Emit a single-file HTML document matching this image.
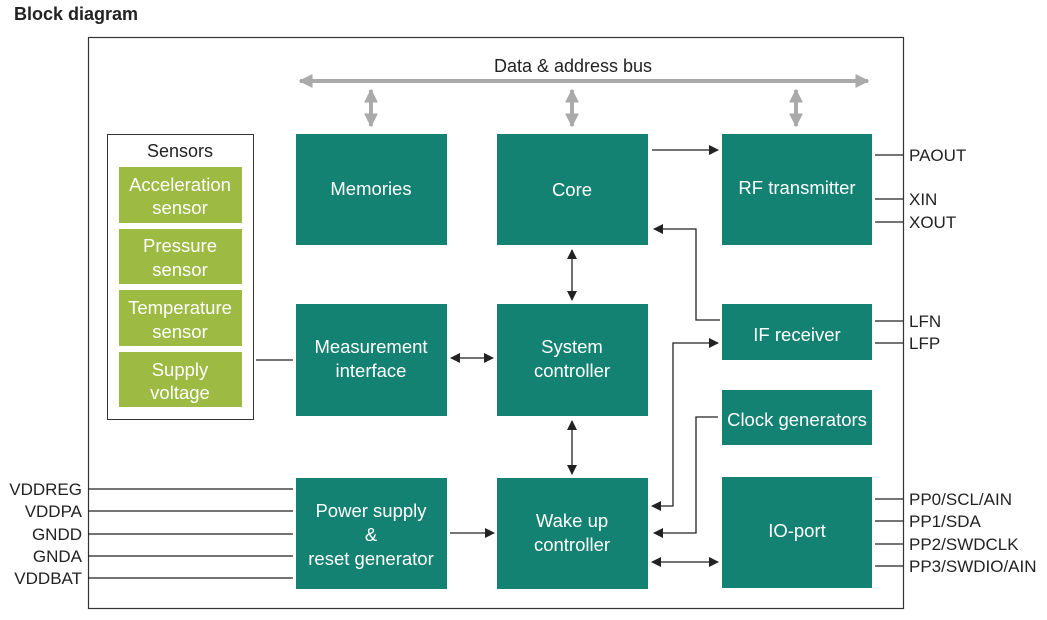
<!DOCTYPE html>
<html><head><style>
body{margin:0;background:#fff;}
svg text{font-family:"Liberation Sans",sans-serif;}
</style></head><body>
<svg width="1047" height="615" xmlns="http://www.w3.org/2000/svg">
<defs>
<marker id="a" viewBox="0 0 10 10" refX="9" refY="5" markerWidth="10" markerHeight="10" markerUnits="userSpaceOnUse" orient="auto-start-reverse"><path d="M0,0L10,5L0,10z" fill="#222"/></marker>
<marker id="g" viewBox="0 0 10 10" refX="9" refY="5" markerWidth="14" markerHeight="14" markerUnits="userSpaceOnUse" orient="auto-start-reverse"><path d="M0,0L10,5L0,10z" fill="#aaa"/></marker>
</defs>
<text x="14" y="20" font-size="18" font-weight="bold" fill="#222">Block diagram</text>
<rect x="88.5" y="37.5" width="815" height="571" fill="none" stroke="#333" stroke-width="1.2"/>
<g stroke="#aaa" stroke-width="4" fill="none">
<line x1="300" y1="81" x2="868" y2="81" marker-start="url(#g)" marker-end="url(#g)"/>
<line x1="371" y1="90" x2="371" y2="126" marker-start="url(#g)" marker-end="url(#g)"/>
<line x1="572" y1="90" x2="572" y2="126" marker-start="url(#g)" marker-end="url(#g)"/>
<line x1="796" y1="90" x2="796" y2="126" marker-start="url(#g)" marker-end="url(#g)"/>
</g>
<text x="573" y="72" font-size="18" text-anchor="middle" fill="#222">Data &amp; address bus</text>
<rect x="107.5" y="134.5" width="146" height="285" fill="#fff" stroke="#333"/>
<text x="180" y="157" font-size="18" text-anchor="middle" fill="#222">Sensors</text>
<g fill="#9dba43"><rect x="119" y="167" width="123" height="56"/><rect x="119" y="229" width="123" height="55"/><rect x="119" y="290" width="123" height="56"/><rect x="119" y="352" width="123" height="55"/></g>
<g fill="#fff" font-size="18.5" text-anchor="middle">
<text x="180" y="191">Acceleration</text><text x="180" y="214">sensor</text>
<text x="180" y="252">Pressure</text><text x="180" y="276">sensor</text>
<text x="180" y="314">Temperature</text><text x="180" y="338">sensor</text>
<text x="180" y="376">Supply</text><text x="180" y="399">voltage</text>
</g>
<g fill="#138272">
<rect x="296" y="134" width="151" height="111"/><rect x="497" y="134" width="151" height="111"/><rect x="722" y="134" width="150" height="111"/>
<rect x="296" y="304" width="151" height="112"/><rect x="497" y="304" width="151" height="112"/>
<rect x="722" y="304" width="150" height="56"/><rect x="722" y="390" width="150" height="55"/><rect x="722" y="477" width="150" height="111"/>
<rect x="296" y="478" width="151" height="111"/><rect x="497" y="478" width="151" height="111"/>
</g>
<g fill="#fff" font-size="18.5" text-anchor="middle">
<text x="371" y="195">Memories</text><text x="572" y="196">Core</text><text x="797" y="194">RF transmitter</text>
<text x="371" y="353">Measurement</text><text x="371" y="377">interface</text>
<text x="572" y="353">System</text><text x="572" y="377">controller</text>
<text x="797" y="341">IF receiver</text><text x="797" y="426">Clock generators</text><text x="797" y="537">IO-port</text>
<text x="371" y="517">Power supply</text><text x="371" y="541">&amp;</text><text x="371" y="565">reset generator</text>
<text x="572" y="527">Wake up</text><text x="572" y="551">controller</text>
</g>
<g stroke="#222" stroke-width="1.3" fill="none">
<line x1="652" y1="150" x2="718" y2="150" marker-end="url(#a)"/>
<polyline points="720,320 696,320 696,229 654,229" marker-end="url(#a)"/>
<line x1="572" y1="250" x2="572" y2="300" marker-start="url(#a)" marker-end="url(#a)"/>
<line x1="572" y1="421" x2="572" y2="474" marker-start="url(#a)" marker-end="url(#a)"/>
<line x1="451" y1="358" x2="493" y2="358" marker-start="url(#a)" marker-end="url(#a)"/>
<line x1="256" y1="360" x2="293" y2="360"/>
<line x1="450" y1="533" x2="494" y2="533" marker-end="url(#a)"/>
<polyline points="652,506 673,506 673,343 718,343" marker-start="url(#a)" marker-end="url(#a)"/>
<polyline points="718,417 696,417 696,533 654,533" marker-end="url(#a)"/>
<line x1="652" y1="562" x2="718" y2="562" marker-start="url(#a)" marker-end="url(#a)"/>
<line x1="88" y1="489" x2="293" y2="489"/><line x1="88" y1="511" x2="293" y2="511"/><line x1="88" y1="534" x2="293" y2="534"/><line x1="88" y1="556" x2="293" y2="556"/><line x1="88" y1="578" x2="293" y2="578"/>
<line x1="875" y1="155" x2="903" y2="155"/><line x1="875" y1="199" x2="903" y2="199"/><line x1="875" y1="222" x2="903" y2="222"/>
<line x1="875" y1="321" x2="903" y2="321"/><line x1="875" y1="343" x2="903" y2="343"/>
<line x1="875" y1="499" x2="903" y2="499"/><line x1="875" y1="521" x2="903" y2="521"/><line x1="875" y1="544" x2="903" y2="544"/><line x1="875" y1="566" x2="903" y2="566"/>
</g>
<g fill="#222" font-size="17">
<text x="909" y="161">PAOUT</text><text x="909" y="205">XIN</text><text x="909" y="228">XOUT</text>
<text x="909" y="327">LFN</text><text x="909" y="349">LFP</text>
<text x="909" y="505">PP0/SCL/AIN</text><text x="909" y="527">PP1/SDA</text><text x="909" y="550">PP2/SWDCLK</text><text x="909" y="572">PP3/SWDIO/AIN</text>
</g>
<g fill="#222" font-size="17" text-anchor="end">
<text x="82" y="495">VDDREG</text><text x="82" y="517">VDDPA</text><text x="82" y="540">GNDD</text><text x="82" y="562">GNDA</text><text x="82" y="584">VDDBAT</text>
</g>
</svg>
</body></html>
